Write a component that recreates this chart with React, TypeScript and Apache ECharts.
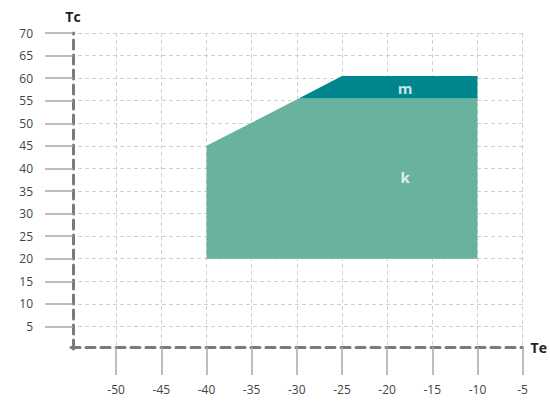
import React, { useEffect, useRef } from "react";
import * as echarts from "echarts";

const kTe = [-40, -40, -29.8, -10, -10];
const kTc = [20, 45, 55.5, 55.5, 20];
const mTe = [-29.8, -25, -10, -10];
const mTc = [55.5, 60.5, 60.5, 55.5];
const labelPoints = [
  { name: "m", te: -18, tc: 57.8 },
  { name: "k", te: -18, tc: 38 },
];
const xTicks = [-50, -45, -40, -35, -30, -25, -20, -15, -10, -5];
const yTicks = [5, 10, 15, 20, 25, 30, 35, 40, 45, 50, 55, 60, 65, 70];

const FONT = "'Open Sans', 'Noto Sans', sans-serif";

function polySeries(te: number[], tc: number[], color: string) {
  return {
    type: "custom",
    data: [[te[0], tc[0]]],
    silent: true,
    z: 3,
    renderItem: (_p: any, api: any) => {
      const pts = te.map((x, i) => api.coord([x, tc[i]]));
      return {
        type: "polygon",
        shape: { points: pts },
        style: { fill: color, stroke: "none" },
      };
    },
  };
}

export default function App() {
  const ref = useRef<HTMLDivElement>(null);
  useEffect(() => {
    const chart = echarts.init(ref.current!, undefined, { renderer: "svg" });
    chart.setOption({
      animation: false,
      backgroundColor: "#fff",
      grid: { left: 71, right: 26, top: 33, bottom: 55 },
      xAxis: {
        type: "value",
        min: -55,
        max: -5,
        interval: 5,
        offset: -2,
        name: "Te",
        nameLocation: "end",
        nameGap: 8,
        nameTextStyle: { fontFamily: FONT, fontWeight: "bold", fontSize: 14, color: "#222" },
        axisLine: { onZero: false, lineStyle: { color: "#7a7a7a", width: 3, type: [9, 6] } },
        axisTick: { show: true, length: 28, customValues: xTicks, lineStyle: { color: "#a8a8a8", width: 1.5 } },
        axisLabel: { customValues: xTicks, margin: 36, fontFamily: FONT, fontSize: 12, color: "#444" },
        splitLine: { show: true, lineStyle: { color: "#d0d0d0", type: [4, 3], width: 1 } },
      },
      yAxis: {
        type: "value",
        min: 0,
        max: 70,
        interval: 5,
        offset: -2,
        name: "Tc",
        nameLocation: "end",
        nameGap: 10,
        nameTextStyle: { fontFamily: FONT, fontWeight: "bold", fontSize: 14, color: "#222", align: "center" },
        axisLine: { onZero: false, lineStyle: { color: "#7a7a7a", width: 3, type: [9, 6] } },
        axisTick: { show: true, length: 28, customValues: yTicks, lineStyle: { color: "#a8a8a8", width: 1.5 } },
        axisLabel: { customValues: yTicks, margin: 40, fontFamily: FONT, fontSize: 12, color: "#444" },
        splitLine: { show: true, lineStyle: { color: "#d0d0d0", type: [4, 3], width: 1 } },
      },
      series: [
        polySeries(kTe, kTc, "#69b39e"),
        polySeries(mTe, mTc, "#00868c"),
        {
          type: "scatter",
          symbolSize: 0,
          z: 5,
          data: labelPoints.map((p) => ({ name: p.name, value: [p.te, p.tc] })),
          label: {
            show: true,
            position: "inside",
            formatter: "{b}",
            color: "#fff",
            fontFamily: FONT,
            fontWeight: "bold",
            fontSize: 15,
          },
        },
      ],
    });
    return () => chart.dispose();
  }, []);
  return (
    <div
      ref={ref}
      style={{ position: "absolute", left: 0, top: 0, width: 550, height: 404 }}
    />
  );
}
